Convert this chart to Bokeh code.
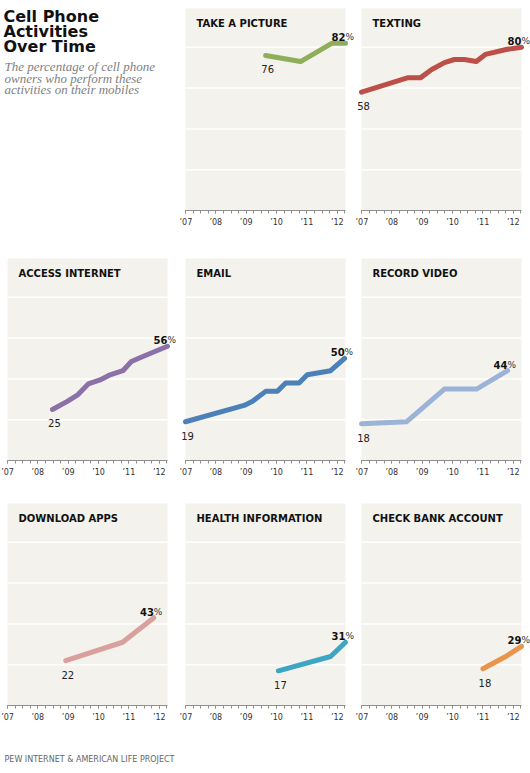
from bokeh.plotting import figure
from bokeh.models import Range1d, Label, FixedTicker, BoxAnnotation
from bokeh.layouts import row, column
from bokeh.embed import file_html
from bokeh.resources import INLINE

# ---------------- data ----------------
YEARS = [2007, 2008, 2009, 2010, 2011, 2012]
YEAR_LABELS = ["\u201907", "\u201908", "\u201909", "\u201910", "\u201911", "\u201912"]
GRID_VALUES = [20, 40, 60, 80]

picture_x = [2009.64, 2010.79, 2011.83, 2012.27]
picture_y = [76, 73, 82, 82]
texting_x = [2007.0, 2008.51, 2008.94, 2009.30, 2009.73, 2010.06, 2010.39, 2010.78, 2011.08, 2011.80, 2012.27]
texting_y = [58, 65, 65, 69, 72.5, 74, 74, 73, 76.5, 79, 80]
internet_x = [2008.48, 2008.97, 2009.30, 2009.66, 2010.05, 2010.38, 2010.80, 2011.08, 2011.46, 2012.27]
internet_y = [25, 29, 32, 37.5, 39.5, 42, 44, 48.5, 51, 56]
email_x = [2007.0, 2008.93, 2009.21, 2009.65, 2010.03, 2010.30, 2010.74, 2011.01, 2011.78, 2012.24]
email_y = [19, 27, 29, 34, 34, 38, 38, 42, 44, 50]
video_x = [2007.0, 2008.49, 2009.73, 2010.79, 2011.81]
video_y = [18, 19, 35, 35, 44]
apps_x = [2008.92, 2010.79, 2011.82]
apps_y = [22, 31, 43]
health_x = [2010.06, 2011.78, 2012.27]
health_y = [17, 24, 31]
bank_x = [2011.0, 2011.75, 2012.27]
bank_y = [18, 24, 29]

TITLE_LINES = ["Cell Phone", "Activities", "Over Time"]
SUBTITLE_LINES = ["The percentage of cell phone", "owners who perform these",
                  "activities on their mobiles"]
FOOTER = "PEW INTERNET & AMERICAN LIFE PROJECT"

# ---------------- style / layout ----------------
BG = "#F3F2EC"
FONT = "DejaVu Sans"
X0, X1 = 2007.0, 2012.27
Y0, Y1 = 0, 99
PW, PH = 160, 202          # visible panel size
TOP_PAD = 8                # white space above each panel
FRAME_H = TOP_PAD + PH
QUARTERS = [X0 + 0.25 * i for i in range(22)]

COL_W = [179, 176, 175]    # figure widths per column
COL_OFF = [7, 6, 6]        # panel left offset inside its figure
ROW_H = [250, 245, 240]    # figure heights per row


def fmt(v):
    return str(int(round(v)))


def panel(title, xs, ys, color, c, r):
    w, off, h = COL_W[c], COL_OFF[c], ROW_H[r]
    kx = PW / (X1 - X0)
    ky = PH / (Y1 - Y0)
    p = figure(width=w, height=h, title=None,
               x_range=Range1d(X0 - off / kx, X1 + (w - off - PW) / kx),
               y_range=Range1d(Y0, Y1 + TOP_PAD / ky),
               output_backend="svg", toolbar_location=None,
               y_axis_location=None, x_axis_location="below",
               min_border_left=0, min_border_right=0,
               min_border_top=0, min_border_bottom=h - FRAME_H)
    p.outline_line_color = None
    p.background_fill_color = "white"
    p.border_fill_color = "white"
    p.xgrid.visible = False
    p.ygrid.visible = False

    p.add_layout(BoxAnnotation(left=X0, right=X1, bottom=Y0, top=Y1, fill_color=BG,
                               fill_alpha=1, line_color=None, level="image"))
    g = p.segment(x0=[X0] * len(GRID_VALUES), x1=[X1] * len(GRID_VALUES),
                  y0=GRID_VALUES, y1=GRID_VALUES, line_color="white", line_width=1.5)
    g.level = "underlay"

    ax = p.xaxis[0]
    ax.bounds = (X0, X1)
    ax.ticker = FixedTicker(ticks=YEARS, minor_ticks=QUARTERS)
    ax.major_label_overrides = dict(zip(YEARS, YEAR_LABELS))
    ax.axis_line_color = "#8f8f8f"
    ax.major_tick_line_color = "#8f8f8f"
    ax.minor_tick_line_color = "#8f8f8f"
    ax.major_tick_in = 0
    ax.major_tick_out = 3
    ax.minor_tick_in = 0
    ax.minor_tick_out = 3
    ax.major_label_standoff = 4
    ax.major_label_text_font = FONT
    ax.major_label_text_font_size = "8px"
    ax.major_label_text_color = "#333333"

    p.line(xs, ys, line_color=color, line_width=5, line_cap="round", line_join="round")

    p.add_layout(Label(x=X0, y=Y1, x_offset=11, y_offset=-15, text=title,
                       text_baseline="alphabetic",
                       text_font=FONT, text_font_style="bold", text_font_size="10px",
                       text_color="#111111"))
    p.add_layout(Label(x=xs[0], y=ys[0], x_offset=2, y_offset=-14, text=fmt(ys[0]),
                       text_align="center", text_baseline="alphabetic",
                       text_font=FONT, text_font_size="10px", text_color="#222222"))
    p.add_layout(Label(x=xs[-1], y=ys[-1], x_offset=0, y_offset=6, text=fmt(ys[-1]),
                       text_align="right", text_baseline="alphabetic",
                       text_font=FONT, text_font_style="bold",
                       text_font_size="10px", text_color="#111111"))
    p.add_layout(Label(x=xs[-1], y=ys[-1], x_offset=0, y_offset=6, text="%",
                       text_align="left", text_baseline="alphabetic",
                       text_font=FONT, text_font_size="9px", text_color="#333333"))
    return p


def blank(w, h):
    f = figure(width=w, height=h, title=None, x_range=Range1d(0, w), y_range=Range1d(h, 0),
               output_backend="svg", toolbar_location=None,
               x_axis_location=None, y_axis_location=None, min_border=0)
    f.outline_line_color = None
    f.background_fill_color = "white"
    f.border_fill_color = "white"
    f.xgrid.visible = False
    f.ygrid.visible = False
    return f


title_fig = blank(COL_W[0], ROW_H[0])
for i, line in enumerate(TITLE_LINES):
    title_fig.add_layout(Label(x=3, y=19 + 18 * i, text=line, text_baseline="alphabetic",
                               text_font=FONT, text_font_style="bold",
                               text_font_size="16px", text_color="#111111"))
for i, line in enumerate(SUBTITLE_LINES):
    title_fig.add_layout(Label(x=4, y=79 + 13.5 * i, text=line, text_baseline="alphabetic",
                               text_font="Liberation Serif", text_font_style="italic",
                               text_font_size="13px", text_color="#7f7f7f"))

p_pic = panel("TAKE A PICTURE", picture_x, picture_y, "#8FAE5B", 1, 0)
p_txt = panel("TEXTING", texting_x, texting_y, "#BC5048", 2, 0)
p_int = panel("ACCESS INTERNET", internet_x, internet_y, "#8B71A8", 0, 1)
p_eml = panel("EMAIL", email_x, email_y, "#4C80B8", 1, 1)
p_vid = panel("RECORD VIDEO", video_x, video_y, "#9CB3D8", 2, 1)
p_app = panel("DOWNLOAD APPS", apps_x, apps_y, "#D9A09E", 0, 2)
p_hlt = panel("HEALTH INFORMATION", health_x, health_y, "#3EA6C2", 1, 2)
p_bnk = panel("CHECK BANK ACCOUNT", bank_x, bank_y, "#E8954B", 2, 2)

footer_fig = blank(sum(COL_W), 30)
footer_fig.add_layout(Label(x=4, y=24, text=FOOTER, text_baseline="alphabetic",
                            text_font=FONT, text_font_size="8px", text_color="#666666"))

layout = column(row(title_fig, p_pic, p_txt),
                row(p_int, p_eml, p_vid),
                row(p_app, p_hlt, p_bnk),
                footer_fig)

open("out.html", "w").write(file_html(layout, INLINE))
